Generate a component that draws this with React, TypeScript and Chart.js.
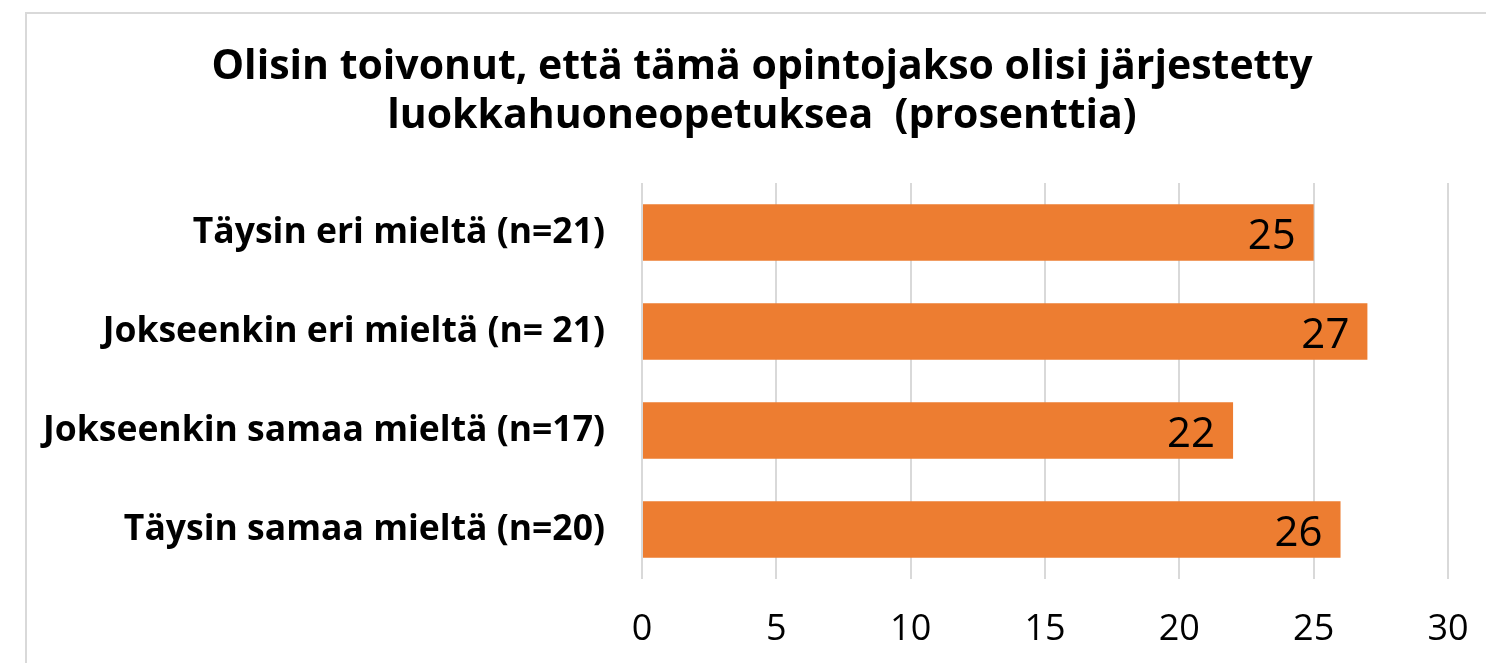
import React, { useEffect, useRef } from "react";
import { Chart, registerables } from "chart.js";

Chart.register(...registerables);

const titleLines = [
  "Olisin toivonut, että tämä opintojakso olisi järjestetty",
  "luokkahuoneopetuksea  (prosenttia)",
];
const categories = [
  "Täysin eri mieltä (n=21)",
  "Jokseenkin eri mieltä (n= 21)",
  "Jokseenkin samaa mieltä (n=17)",
  "Täysin samaa mieltä (n=20)",
];
const values = [25, 27, 22, 26];
const xMin = 0;
const xMax = 30;
const xStep = 5;

const FONT = "'Open Sans', 'DejaVu Sans', sans-serif";

const framePlugin = {
  id: "frame",
  beforeDraw(chart: any) {
    const ctx = chart.ctx;
    ctx.save();
    ctx.fillStyle = "#ffffff";
    ctx.fillRect(0, 0, chart.width, chart.height);
    ctx.strokeStyle = "#d9d9d9";
    ctx.lineWidth = 2;
    ctx.beginPath();
    ctx.moveTo(26, chart.height + 5);
    ctx.lineTo(26, 13);
    ctx.lineTo(chart.width + 5, 13);
    ctx.stroke();
    // title
    ctx.fillStyle = "#000000";
    ctx.font = `700 41px ${FONT}`;
    ctx.textAlign = "center";
    ctx.textBaseline = "alphabetic";
    titleLines.forEach((line, i) => {
      ctx.fillText(line, 762, 79 + i * 49);
    });
    ctx.restore();
  },
};

const labelPlugin = {
  id: "valueLabels",
  afterDatasetsDraw(chart: any) {
    const ctx = chart.ctx;
    const meta = chart.getDatasetMeta(0);
    ctx.save();
    ctx.font = `400 42px ${FONT}`;
    ctx.fillStyle = "#000000";
    ctx.textAlign = "right";
    ctx.textBaseline = "alphabetic";
    meta.data.forEach((bar: any, i: number) => {
      const v = chart.data.datasets[0].data[i];
      ctx.fillText(String(v), bar.x - 18, bar.y + 16);
    });
    ctx.restore();
  },
};

export default function App() {
  const ref = useRef<HTMLCanvasElement | null>(null);
  useEffect(() => {
    if (!ref.current) return;
    const chart = new Chart(ref.current, {
      type: "bar",
      data: {
        labels: categories,
        datasets: [
          {
            data: values,
            backgroundColor: "#ED7D31",
            borderWidth: 0,
            categoryPercentage: 1,
            barPercentage: 0.57,
          },
        ],
      },
      options: {
        indexAxis: "y",
        responsive: false,
        animation: false,
        layout: { padding: { left: 10, right: 38, top: 183, bottom: 0 } },
        plugins: {
          legend: { display: false },
          tooltip: { enabled: false },
          title: { display: false },
        },
        scales: {
          x: {
            min: xMin,
            max: xMax,
            ticks: {
              stepSize: xStep,
              color: "#000000",
              font: { family: FONT, size: 36 },
              padding: 29,
            },
            grid: { color: "#d9d9d9", lineWidth: 2, drawTicks: false },
            border: { display: false },
            afterFit(scale: any) {
              scale.height = 84;
              scale.paddingLeft = 0;
              scale.paddingRight = 0;
            },
          },
          y: {
            ticks: {
              color: "#000000",
              font: { family: FONT, size: 35.5, weight: "bold" },
              padding: 37,
            },
            grid: { display: false, drawTicks: false },
            border: { display: false },
            afterFit(scale: any) {
              scale.width = 632;
              scale.paddingTop = 0;
              scale.paddingBottom = 0;
            },
          },
        },
      },
      plugins: [framePlugin, labelPlugin],
    });
    return () => chart.destroy();
  }, []);
  return (
    <canvas
      ref={ref}
      width={1486}
      height={663}
      style={{ position: "fixed", left: 0, top: 0, width: 1486, height: 663 }}
    />
  );
}
